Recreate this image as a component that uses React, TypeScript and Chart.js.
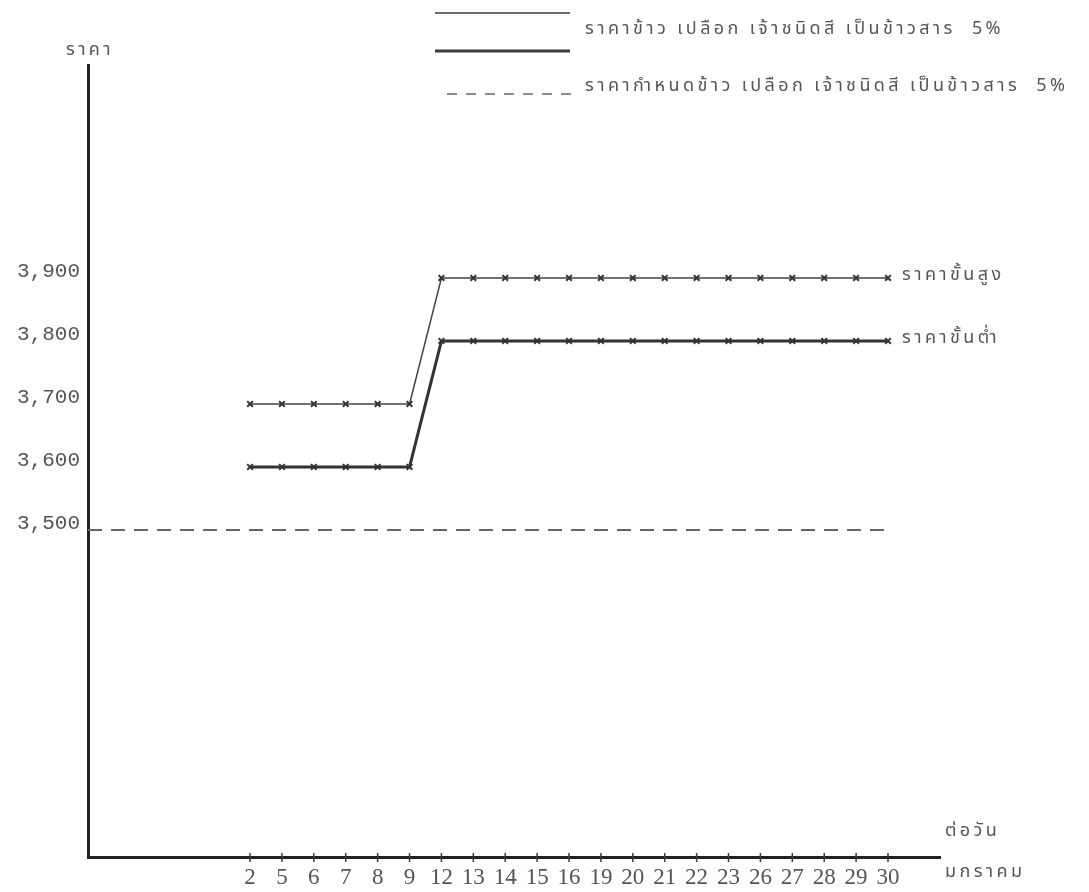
import React, { useEffect, useRef } from "react";
import { Chart, registerables } from "chart.js";

Chart.register(...registerables);

const days = ["2", "5", "6", "7", "8", "9", "12", "13", "14", "15", "16", "19", "20", "21", "22", "23", "26", "27", "28", "29", "30"];
const highPrice = [3700, 3700, 3700, 3700, 3700, 3700, 3900, 3900, 3900, 3900, 3900, 3900, 3900, 3900, 3900, 3900, 3900, 3900, 3900, 3900, 3900];
const lowPrice = [3600, 3600, 3600, 3600, 3600, 3600, 3800, 3800, 3800, 3800, 3800, 3800, 3800, 3800, 3800, 3800, 3800, 3800, 3800, 3800, 3800];
const targetPrice = 3500;
const yTicks = [3500, 3600, 3700, 3800, 3900];

const legendPriceLabel = "ราคาข้าว เปลือก เจ้าชนิดสี เป็นข้าวสาร  5%";
const legendTargetLabel = "ราคากำหนดข้าว เปลือก เจ้าชนิดสี เป็นข้าวสาร  5%";
const highLabel = "ราคาขั้นสูง";
const lowLabel = "ราคาขั้นต่ำ";
const yTitle = "ราคา";
const xTitleTop = "ต่อวัน";
const xTitleBottom = "มกราคม";

const X_MIN = -5.08;
const X_MAX = 21.63;
const Y_MIN = 2981;
const Y_MAX = 4238;

const THAI_FONT = '"Noto Sans Thai", "Noto Sans", "Loma", "Garuda", sans-serif';
const INK = "#3a3a3a";
const TEXT = "#555";

const decorPlugin = {
  id: "decor",
  afterDraw(chart: any) {
    const ctx = chart.ctx as any;
    const xs = chart.scales.x;
    const ys = chart.scales.y;
    const area = chart.chartArea;
    ctx.save();
    // x tick marks crossing the axis
    ctx.strokeStyle = INK;
    ctx.lineWidth = 1.5;
    days.forEach((_, i) => {
      const px = xs.getPixelForValue(i);
      ctx.beginPath();
      ctx.moveTo(px, area.bottom - 4);
      ctx.lineTo(px, area.bottom + 5);
      ctx.stroke();
    });

    ctx.fillStyle = TEXT;
    ctx.font = `18px ${THAI_FONT}`;
    ctx.letterSpacing = "3.4px";
    ctx.textBaseline = "middle";
    ctx.textAlign = "left";
    const titleW = ctx.measureText(yTitle).width;
    ctx.fillText(yTitle, area.left - titleW / 2 + 2, 51);

    const lastX = xs.getPixelForValue(days.length - 1) + 14;
    ctx.fillText(highLabel, lastX, ys.getPixelForValue(highPrice[highPrice.length - 1]) - 2);
    ctx.fillText(lowLabel, lastX, ys.getPixelForValue(lowPrice[lowPrice.length - 1]) - 2);
    ctx.fillText(xTitleTop, area.right + 5, area.bottom - 25);
    ctx.fillText(xTitleBottom, area.right + 5, area.bottom + 16);

    // legend
    ctx.strokeStyle = INK;
    ctx.lineWidth = 1.5;
    ctx.beginPath();
    ctx.moveTo(435, 13);
    ctx.lineTo(570, 13);
    ctx.stroke();
    ctx.lineWidth = 3;
    ctx.beginPath();
    ctx.moveTo(435, 51);
    ctx.lineTo(570, 51);
    ctx.stroke();
    ctx.lineWidth = 1.5;
    ctx.strokeStyle = "#666";
    ctx.setLineDash([10, 9]);
    ctx.beginPath();
    ctx.moveTo(447, 94);
    ctx.lineTo(572, 94);
    ctx.stroke();
    ctx.setLineDash([]);
    ctx.fillText(legendPriceLabel, 585, 30);
    ctx.fillText(legendTargetLabel, 585, 87);
    ctx.letterSpacing = "0px";
    ctx.restore();
  },
};

export default function App() {
  const ref = useRef<HTMLCanvasElement | null>(null);
  useEffect(() => {
    document.body.style.margin = "0";
    const canvas = ref.current;
    if (!canvas) return;
    const chart = new Chart(canvas, {
      type: "line",
      data: {
        datasets: [
          {
            label: "high",
            data: days.map((_, i) => ({ x: i, y: highPrice[i] })),
            borderColor: "#444",
            borderWidth: 1.5,
            pointStyle: "crossRot",
            pointRadius: 4,
            pointBorderWidth: 2,
            pointBorderColor: "#333",
            tension: 0,
          },
          {
            label: "low",
            data: days.map((_, i) => ({ x: i, y: lowPrice[i] })),
            borderColor: "#333",
            borderWidth: 3,
            pointStyle: "crossRot",
            pointRadius: 4,
            pointBorderWidth: 2,
            pointBorderColor: "#333",
            tension: 0,
          },
          {
            label: "target",
            data: [
              { x: X_MIN, y: targetPrice },
              { x: days.length - 1, y: targetPrice },
            ],
            borderColor: "#666",
            borderWidth: 1.8,
            borderDash: [14, 9],
            pointRadius: 0,
          },
        ],
      },
      options: {
        responsive: false,
        animation: false,
        events: [],
        layout: { padding: { top: 65, right: 149, left: 0, bottom: 0 } },
        plugins: { legend: { display: false }, tooltip: { enabled: false } },
        scales: {
          x: {
            type: "linear",
            min: X_MIN,
            max: X_MAX,
            afterBuildTicks: (s: any) => {
              s.ticks = days.map((_, i) => ({ value: i }));
            },
            afterFit: (s: any) => {
              s.height = 35;
            },
            grid: { display: false, drawTicks: false },
            border: { display: true, width: 3, color: "#222" },
            ticks: {
              autoSkip: false,
              maxRotation: 0,
              padding: 7,
              color: TEXT,
              font: { family: '"Liberation Serif", serif', size: 23 },
              callback: (v: any) => days[v as number] ?? "",
            },
          },
          y: {
            type: "linear",
            min: Y_MIN,
            max: Y_MAX,
            afterBuildTicks: (s: any) => {
              s.ticks = yTicks.map((v) => ({ value: v }));
            },
            afterFit: (s: any) => {
              s.width = 88;
            },
            grid: { display: false, drawTicks: false },
            border: { display: true, width: 3, color: "#222" },
            ticks: {
              padding: 8,
              labelOffset: -7,
              color: TEXT,
              font: { family: '"Liberation Mono", monospace', size: 21 },
              callback: (v: any) => Number(v).toLocaleString("en-US"),
            },
          },
        },
      },
      plugins: [decorPlugin],
    });
    return () => chart.destroy();
  }, []);
  return <canvas ref={ref} width={1089} height={892} style={{ display: "block" }} />;
}
